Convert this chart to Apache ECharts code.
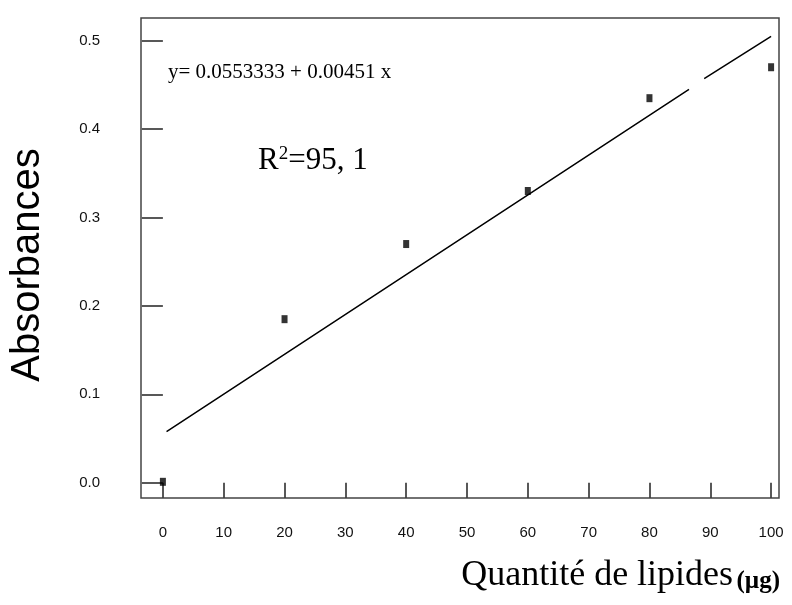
<!DOCTYPE html>
<html>
<head>
<meta charset="utf-8">
<script src="https://cdn.jsdelivr.net/npm/echarts@6/dist/echarts.min.js"></script>
<style>
  html, body { margin: 0; padding: 0; background: #fff; }
  #chart { width: 792px; height: 605px; }
</style>
</head>
<body>
<div id="chart"></div>
<script>
const quantites = [0, 20, 40, 60, 80, 100];
const absorbances = [0.001, 0.185, 0.27, 0.33, 0.435, 0.47];
// droite de regression tracee (avec la petite coupure vers x=87)
const droite = [[0.6, 0.0577], [86.5, 0.445], null, [89, 0.457], [100, 0.505]];
const xTicks = [0, 10, 20, 30, 40, 50, 60, 70, 80, 90, 100];
const yTicks = [0, 0.1, 0.2, 0.3, 0.4, 0.5];

let chart = echarts.init(document.getElementById("chart"));

const labelFont = "'Liberation Sans Narrow', 'Liberation Sans', Arial, sans-serif";
const serif = "'Liberation Serif', 'Times New Roman', serif";

chart.setOption({
  animation: false,
  grid: {
    left: 139,
    right: 13,
    top: 18,
    bottom: 107,
    show: true,
    borderColor: "#444",
    borderWidth: 1.5,
    backgroundColor: "#fff"
  },
  xAxis: {
    type: "value",
    min: -3.6,
    max: 101.3,
    splitLine: { show: false },
    axisLine: { show: false },
    axisTick: {
      show: true,
      length: 15,
      customValues: xTicks,
      lineStyle: { color: "#222", width: 1.5 }
    },
    axisLabel: {
      customValues: xTicks,
      margin: 27,
      color: "#111",
      fontSize: 15,
      fontFamily: labelFont
    }
  },
  yAxis: {
    type: "value",
    min: -0.0173,
    max: 0.5257,
    name: "Absorbances",
    nameLocation: "middle",
    nameGap: 93,
    nameTextStyle: {
      color: "#000",
      fontSize: 40,
      fontFamily: "'Liberation Sans', Arial, sans-serif",
      padding: [0, 14, 0, 0]
    },
    splitLine: { show: false },
    axisLine: { show: false },
    axisTick: {
      show: true,
      length: 21,
      customValues: yTicks,
      lineStyle: { color: "#222", width: 1.5 }
    },
    axisLabel: {
      customValues: yTicks,
      margin: 41,
      color: "#111",
      fontSize: 15,
      fontFamily: labelFont,
      formatter: v => v.toFixed(1)
    }
  },
  graphic: [
    {
      type: "text",
      left: 168,
      top: 62,
      style: {
        text: "y= 0.0553333 + 0.00451 x",
        fontSize: 21,
        fontFamily: serif,
        fill: "#000"
      }
    },
    {
      type: "text",
      left: 258,
      top: 145,
      style: {
        text: "{a|R}{s|2}{a|=95, 1}",
        rich: {
          a: { fontSize: 31, fontFamily: serif, fill: "#000", verticalAlign: "bottom" },
          s: { fontSize: 19, fontFamily: serif, fill: "#000", verticalAlign: "top" }
        }
      }
    },
    {
      type: "text",
      right: 12,
      top: 558,
      style: {
        text: "{a|Quantité de lipides} {b|(µg)}",
        rich: {
          a: { fontSize: 36, fontFamily: serif, fill: "#000", verticalAlign: "bottom" },
          b: { fontSize: 25, fontWeight: "bold", fontFamily: serif, fill: "#000", verticalAlign: "bottom" }
        }
      }
    }
  ],
  series: [
    {
      type: "line",
      data: droite,
      showSymbol: false,
      connectNulls: false,
      lineStyle: { color: "#000", width: 1.5 },
      z: 2
    },
    {
      type: "scatter",
      data: quantites.map((q, i) => [q, absorbances[i]]),
      symbol: "rect",
      symbolSize: [6, 8],
      itemStyle: { color: "#000" },
      z: 3
    }
  ]
});
</script>
</body>
</html>
